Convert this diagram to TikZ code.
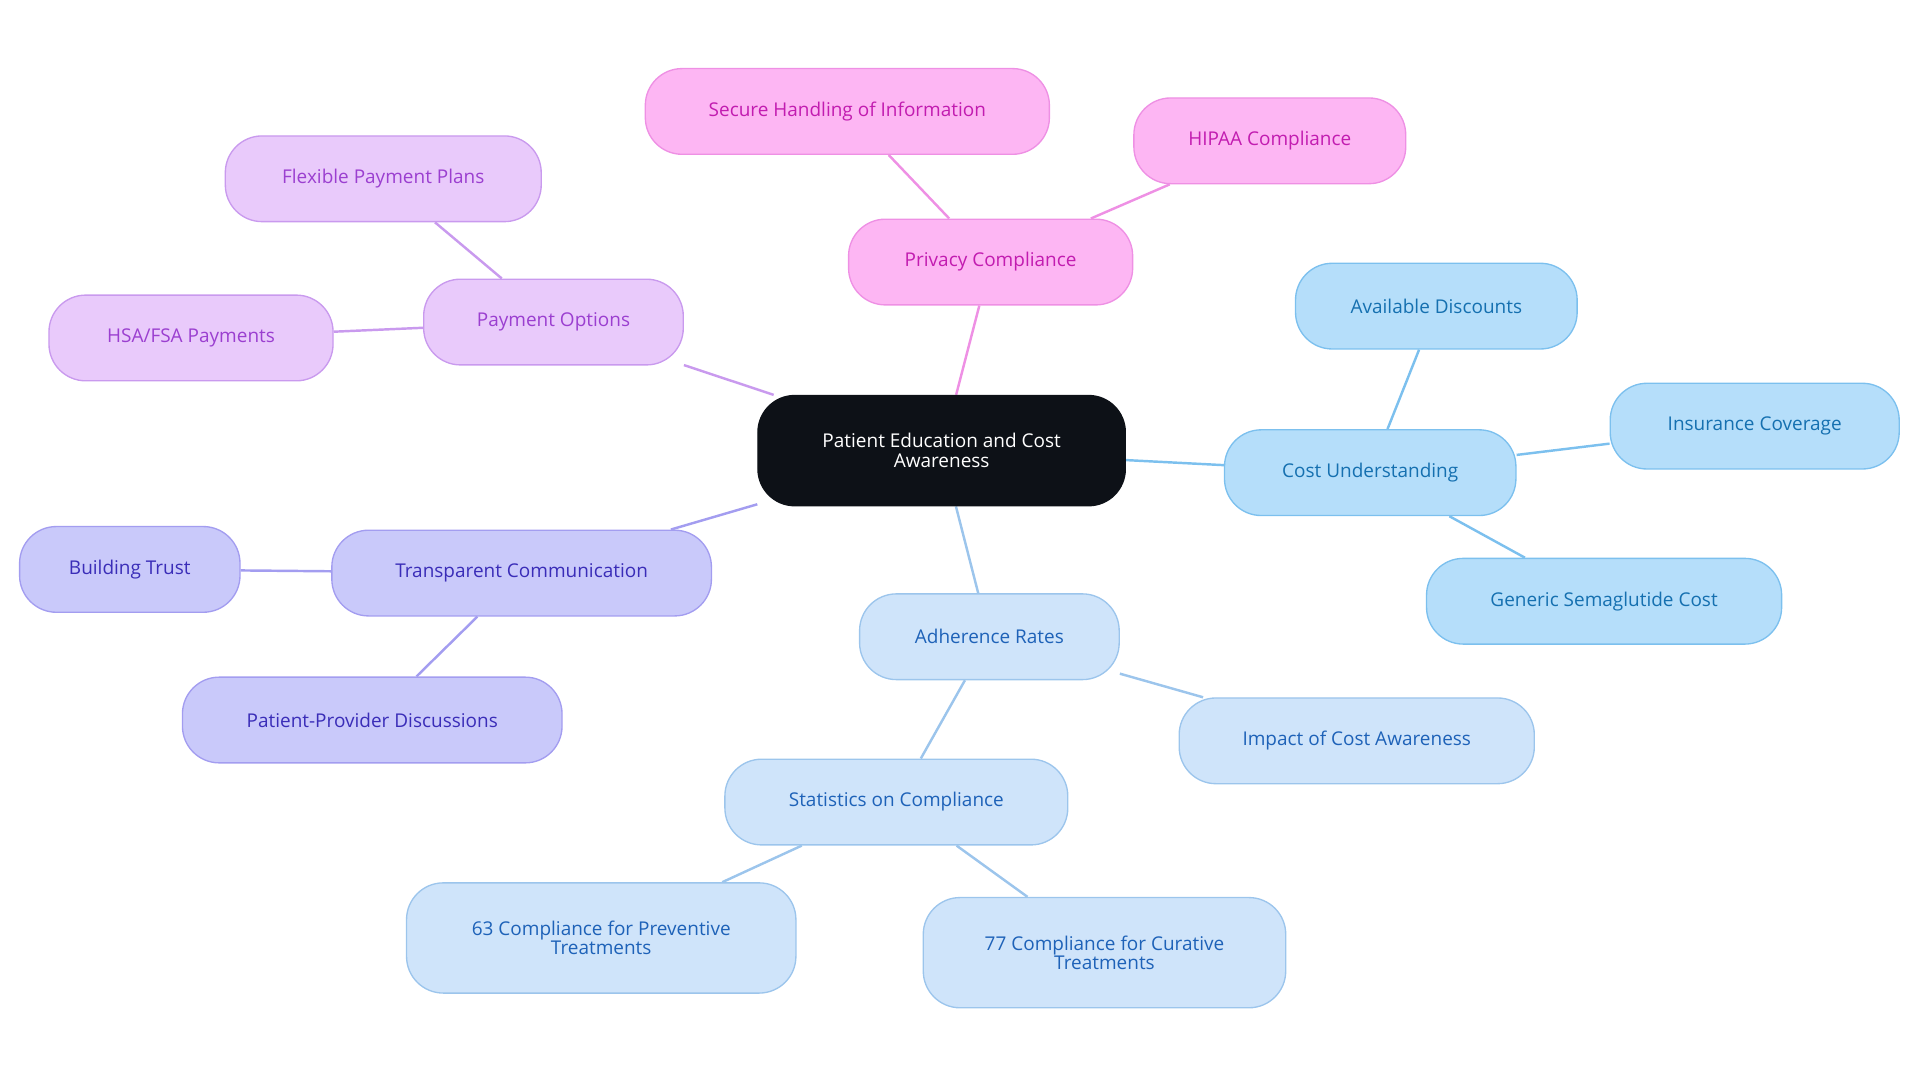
\documentclass[tikz,border=0pt]{standalone}
\usepackage{fontspec}
\setmainfont{Open Sans}
\usetikzlibrary{backgrounds}
\definecolor{pkF}{HTML}{FDB6F3}\definecolor{pkD}{HTML}{EE90E4}\definecolor{pkT}{HTML}{C21CB0}
\definecolor{lpF}{HTML}{E9CAFB}\definecolor{lpD}{HTML}{C99AEE}\definecolor{lpT}{HTML}{9B3FD0}
\definecolor{lvF}{HTML}{C9C9FA}\definecolor{lvD}{HTML}{A39DF0}\definecolor{lvT}{HTML}{3A2DB8}
\definecolor{blF}{HTML}{B5DEFA}\definecolor{blD}{HTML}{7CC0EE}\definecolor{blT}{HTML}{1570B0}
\definecolor{lbF}{HTML}{CFE4FA}\definecolor{lbD}{HTML}{9CC5EC}\definecolor{lbT}{HTML}{1E62B8}
\definecolor{ctF}{HTML}{0D1117}
\tikzset{
 box/.style={draw, line width=1.1pt, rounded corners=30pt, minimum height=70pt, align=center, font=\fontsize{15.5}{16}\selectfont, inner sep=0pt},
 pk/.style={box, fill=pkF, draw=pkD, text=pkT},
 lp/.style={box, fill=lpF, draw=lpD, text=lpT},
 lv/.style={box, fill=lvF, draw=lvD, text=lvT},
 bl/.style={box, fill=blF, draw=blD, text=blT},
 lb/.style={box, fill=lbF, draw=lbD, text=lbT},
 ed/.style={line width=2pt},
}
\begin{document}
\begin{tikzpicture}[x=1pt,y=-1pt]
\useasboundingbox (0,0) rectangle (1568,884);
\node[box, fill=ctF, draw=ctF, text=white, minimum width=300pt, minimum height=90pt] (c) at (769,368) {Patient Education and Cost\\Awareness};
\node[pk, minimum width=330pt] (sh) at (692,91) {Secure Handling of Information};
\node[pk, minimum width=222pt] (hi) at (1037,115) {HIPAA Compliance};
\node[pk, minimum width=232pt] (pc) at (809,214) {Privacy Compliance};
\node[bl, minimum width=230pt] (ad) at (1173,250) {Available Discounts};
\node[bl, minimum width=236pt] (ic) at (1433,348) {Insurance Coverage};
\node[bl, minimum width=238pt] (cu) at (1119,386) {Cost Understanding};
\node[bl, minimum width=290pt] (gs) at (1310,491) {Generic Semaglutide Cost};
\node[lp, minimum width=258pt] (fp) at (313,146) {Flexible Payment Plans};
\node[lp, minimum width=232pt] (hs) at (156,276) {HSA/FSA Payments};
\node[lp, minimum width=212pt] (po) at (452,263) {Payment Options};
\node[lv, minimum width=180pt] (bt) at (106,465) {Building Trust};
\node[lv, minimum width=310pt] (tc) at (426,468) {Transparent Communication};
\node[lv, minimum width=310pt] (pp) at (304,588) {Patient-Provider Discussions};
\node[lb, minimum width=212pt] (ar) at (808,520) {Adherence Rates};
\node[lb, minimum width=290pt] (im) at (1108,605) {Impact of Cost Awareness};
\node[lb, minimum width=280pt] (st) at (732,655) {Statistics on Compliance};
\node[lb, minimum width=318pt, minimum height=90pt] (s63) at (491,766) {63 Compliance for Preventive\\Treatments};
\node[lb, minimum width=296pt, minimum height=90pt] (s77) at (902,778) {77 Compliance for Curative\\Treatments};
\begin{scope}[on background layer]
\draw[ed, draw=pkD] (c) -- (pc); \draw[ed, draw=pkD] (pc) -- (sh); \draw[ed, draw=pkD] (pc) -- (hi);
\draw[ed, draw=blD] (c) -- (cu); \draw[ed, draw=blD] (cu) -- (ad); \draw[ed, draw=blD] (cu) -- (ic); \draw[ed, draw=blD] (cu) -- (gs);
\draw[ed, draw=lpD] (c) -- (po); \draw[ed, draw=lpD] (po) -- (fp); \draw[ed, draw=lpD] (po) -- (hs);
\draw[ed, draw=lvD] (c) -- (tc); \draw[ed, draw=lvD] (tc) -- (bt); \draw[ed, draw=lvD] (tc) -- (pp);
\draw[ed, draw=lbD] (c) -- (ar); \draw[ed, draw=lbD] (ar) -- (im); \draw[ed, draw=lbD] (ar) -- (st); \draw[ed, draw=lbD] (st) -- (s63); \draw[ed, draw=lbD] (st) -- (s77);
\end{scope}
\end{tikzpicture}
\end{document}
